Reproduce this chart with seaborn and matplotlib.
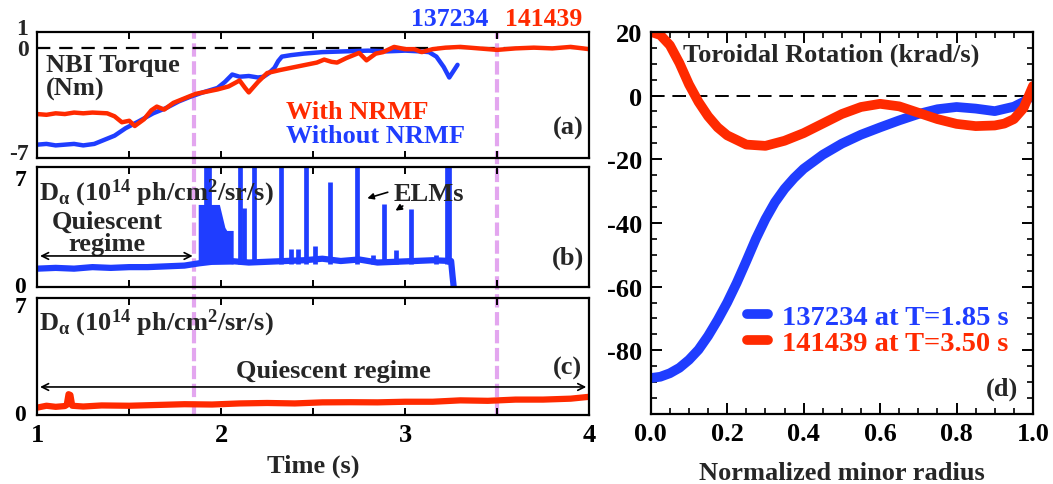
import numpy as np
import pandas as pd
import seaborn as sns
import matplotlib
matplotlib.use("Agg")
import matplotlib.pyplot as plt
from matplotlib.ticker import MultipleLocator, FixedLocator

# ---------------- data ----------------
# (a) NBI torque (Nm)
t_a_blue = [1.00, 1.05, 1.10, 1.15, 1.20, 1.25, 1.31, 1.36, 1.42, 1.48, 1.55, 1.63, 1.70, 1.77,
            1.83, 1.90, 1.98, 2.02, 2.06, 2.10, 2.15, 2.20, 2.23, 2.26, 2.29, 2.31, 2.33, 2.38,
            2.45, 2.55, 2.67, 2.80, 2.90, 3.00, 3.08, 3.13, 3.17, 3.21, 3.24, 3.285]
v_a_blue = [-6.5, -6.45, -6.55, -6.5, -6.45, -6.55, -6.45, -6.2, -5.9, -5.4, -4.95, -4.4, -4.05, -3.6,
            -3.3, -3.0, -2.7, -2.3, -1.8, -1.95, -1.9, -2.0, -1.95, -1.7, -1.35, -0.9, -0.6, -0.5,
            -0.4, -0.3, -0.25, -0.2, -0.25, -0.2, -0.25, -0.3, -0.6, -1.3, -2.0, -1.15]
t_a_red = [1.00, 1.05, 1.10, 1.15, 1.20, 1.25, 1.30, 1.38, 1.42, 1.46, 1.50, 1.53, 1.58, 1.62,
           1.65, 1.69, 1.74, 1.80, 1.86, 1.92, 1.98, 2.04, 2.10, 2.13, 2.15, 2.20, 2.25, 2.32,
           2.40, 2.46, 2.52, 2.56, 2.60, 2.63, 2.68, 2.75, 2.79, 2.84, 2.88, 2.94, 3.00, 3.05,
           3.09, 3.15, 3.22, 3.30, 3.40, 3.50, 3.60, 3.70, 3.80, 3.90, 4.00]
v_a_red = [-4.45, -4.5, -4.4, -4.45, -4.35, -4.4, -4.35, -4.4, -4.6, -5.0, -4.9, -5.25, -4.8, -4.2,
           -3.95, -4.15, -3.7, -3.4, -3.1, -2.95, -2.8, -2.6, -2.2, -2.7, -3.0, -2.3, -1.7, -1.5,
           -1.3, -1.15, -1.0, -0.8, -0.95, -1.0, -0.7, -0.35, -0.85, -0.4, -0.3, 0.05, -0.1, -0.1,
           -0.3, -0.1, 0.0, 0.05, -0.05, -0.15, -0.05, 0.0, -0.05, 0.05, -0.1]

# (b) D-alpha, shot 137234
t_b = [1.00, 1.10, 1.20, 1.30, 1.40, 1.50, 1.60, 1.70, 1.80, 1.88, 1.95, 2.05, 2.15, 2.25, 2.35,
       2.45, 2.55, 2.65, 2.75, 2.85, 2.95, 3.05, 3.15, 3.25, 3.258, 3.265, 3.275]
v_b = [1.0, 1.05, 1.0, 1.1, 1.05, 1.1, 1.1, 1.15, 1.2, 1.35, 1.45, 1.5, 1.4, 1.45, 1.5,
       1.55, 1.65, 1.5, 1.6, 1.4, 1.45, 1.5, 1.55, 1.5, 0.5, -0.3, -0.6]
blk_t = [1.875, 1.99, 2.02, 2.03, 2.065]
blk_top = [5.2, 5.2, 3.7, 3.5, 3.5]
elm_t = [1.92, 1.935, 2.10, 2.125, 2.18, 2.325, 2.38, 2.42, 2.46, 2.51, 2.59, 2.74, 2.825,
         2.8875, 2.95, 3.03, 3.17, 3.225, 3.24]
elm_v = [8, 8, 8, 5.0, 8, 8, 2.3, 2.3, 8, 2.5, 6.7, 8, 1.9, 5.2, 2.2, 4.9, 1.9, 8, 8]

# (c) D-alpha, shot 141439
t_c = [1.00, 1.05, 1.10, 1.15, 1.16, 1.17, 1.18, 1.19, 1.25, 1.35, 1.50, 1.65, 1.80, 1.95,
       2.10, 2.25, 2.40, 2.55, 2.70, 2.85, 3.00, 3.15, 3.30, 3.45, 3.60, 3.75, 3.90, 4.00]
v_c = [0.28, 0.4, 0.33, 0.38, 0.45, 1.15, 1.1, 0.4, 0.35, 0.42, 0.4, 0.45, 0.5, 0.48,
       0.55, 0.58, 0.55, 0.62, 0.63, 0.62, 0.66, 0.66, 0.75, 0.72, 0.8, 0.8, 0.86, 0.98]

# (d) toroidal rotation profiles
r_blue = [0.0, 0.025, 0.05, 0.075, 0.10, 0.125, 0.15, 0.175, 0.20, 0.225, 0.25, 0.275, 0.30,
          0.325, 0.35, 0.375, 0.40, 0.45, 0.50, 0.55, 0.60, 0.65, 0.70, 0.75, 0.80, 0.85,
          0.90, 0.95, 0.975, 1.0]
w_blue = [-88.7, -88.3, -87.2, -85.5, -83.0, -79.8, -75.5, -70.5, -65.0, -58.8, -52.0, -45.0,
          -38.8, -33.5, -29.3, -25.9, -23.0, -18.6, -15.1, -12.3, -10.0, -7.8, -5.8, -4.3,
          -3.6, -4.1, -4.9, -3.5, -2.0, 0.0]
r_red = [0.0, 0.025, 0.05, 0.075, 0.10, 0.125, 0.15, 0.175, 0.20, 0.25, 0.30, 0.35, 0.40,
         0.45, 0.50, 0.55, 0.60, 0.65, 0.70, 0.75, 0.80, 0.85, 0.90, 0.925, 0.95, 0.975, 1.0]
w_red = [20.0, 19.0, 15.8, 10.2, 3.5, -2.0, -6.5, -10.0, -12.5, -15.4, -15.8, -14.2, -11.8,
         -8.8, -5.8, -3.6, -2.6, -3.4, -5.4, -7.4, -8.9, -9.6, -9.4, -8.8, -7.4, -4.0, 3.0]

switch_times = [1.85, 3.50]
a_tick_vals = [1, 0, -7]
a_tick_text = ["1", "0", "-7"]

BLUE = "#1f3dff"
RED = "#ff2a00"
PINK = "#e3a6ef"

# ---------------- style ----------------
sns.set_theme(style="ticks")
plt.rcParams.update({
    "font.family": ["Liberation Serif", "DejaVu Serif"],
    "font.weight": "bold",
    "mathtext.fontset": "custom",
    "mathtext.rm": "Liberation Serif:bold",
    "mathtext.it": "Liberation Serif:bold",
    "mathtext.bf": "Liberation Serif:bold",
    "axes.edgecolor": "black",
    "axes.linewidth": 1.6,
    "xtick.color": "black",
    "ytick.color": "black",
    "xtick.direction": "in",
    "ytick.direction": "in",
})

FS = 19
FSY = 17
FSR = 19
fig = plt.figure(figsize=(10.53, 4.85), dpi=100)

L, W = 0.0354, 0.524
# pink dashed lines spanning (a)-(c), drawn behind the panels' data
ax_o = fig.add_axes([L, 0.1423, W, 0.932 - 0.1423])
ax_a = fig.add_axes([L, 0.672, W, 0.260])
ax_b = fig.add_axes([L, 0.4062, W, 0.2474])
ax_c = fig.add_axes([L, 0.1423, W, 0.2412])
ax_d = fig.add_axes([0.618, 0.1443, 0.363, 0.788])

ax_o.set_xlim(1, 4)
ax_o.set_ylim(0, 1)
ax_o.axis("off")
for ts in switch_times:
    ax_o.axvline(ts, color=PINK, lw=3.0, dashes=(3.2, 1.1))

# (a)
df_a_b = pd.DataFrame({"t": t_a_blue, "v": v_a_blue})
df_a_r = pd.DataFrame({"t": t_a_red, "v": v_a_red})
ax_a.axhline(0, color="black", lw=1.6, dashes=(6, 4))
sns.lineplot(data=df_a_b, x="t", y="v", ax=ax_a, color=BLUE, lw=3.2, sort=False, estimator=None)
sns.lineplot(data=df_a_r, x="t", y="v", ax=ax_a, color=RED, lw=3.2, sort=False, estimator=None)
ax_a.set_ylim(-7.4, 1.05)
ax_a.set_yticks(a_tick_vals)
ax_a.set_yticklabels([])
yt = ax_a.get_yaxis_transform()
for val, txt, dy in zip(a_tick_vals, a_tick_text, [0.3, -0.15, -0.1]):
    ax_a.text(-0.016, val + dy, txt, transform=yt, ha="right", va="center", fontsize=FSY,
              fontweight="bold", clip_on=False)
ax_a.text(1.047, -1.93, "NBI Torque\n(Nm)", fontsize=FS, fontweight="bold", va="center",
          ha="left", linespacing=1.0)
ax_a.text(2.35, -4.31, "With NRMF", color=RED, fontsize=FS, fontweight="bold", va="center")
ax_a.text(2.35, -5.92, "Without NRMF", color=BLUE, fontsize=FS, fontweight="bold", va="center")
ax_a.text(3.885, -5.32, "(a)", fontsize=FS, fontweight="bold", ha="center", va="center")
ax_a.text(3.24, 1.93, "137234", color=BLUE, fontsize=18.5, fontweight="bold", ha="center",
          va="center", clip_on=False)
ax_a.text(3.755, 1.93, "141439", color=RED, fontsize=18.5, fontweight="bold", ha="center",
          va="center", clip_on=False)

# (b)
df_b = pd.DataFrame({"t": t_b, "v": v_b})
ax_b.fill_between(blk_t, 1.3, blk_top, color=BLUE, lw=0)
ax_b.vlines(elm_t, 1.3, elm_v, color=BLUE, lw=3.4)
sns.lineplot(data=df_b, x="t", y="v", ax=ax_b, color=BLUE, lw=4.5, sort=False, estimator=None)
ax_b.set_ylim(-0.2, 7.65)
ax_b.set_yticks([0, 7])
ax_b.set_yticklabels(["0", "7"])
ax_b.text(1.01, 6.0, r"D$_{\alpha}$ (10$^{14}$ ph/cm$^{2}$/sr/s)", fontsize=FS,
          fontweight="bold", va="center", ha="left")
ax_b.text(1.38, 3.4, "Quiescent\nregime", fontsize=FS, fontweight="bold", ha="center",
          va="center", linespacing=0.95)
ax_b.annotate("", xy=(1.0, 1.83), xytext=(1.86, 1.83),
              arrowprops=dict(arrowstyle="<->", color="black", lw=1.2))
ax_b.text(3.13, 5.9, "ELMs", fontsize=FS, fontweight="bold", ha="center", va="center")
ax_b.annotate("", xy=(2.78, 5.55), xytext=(2.92, 6.05),
              arrowprops=dict(arrowstyle="-|>", color="black", lw=1.2, mutation_scale=9))
ax_b.annotate("", xy=(2.935, 4.7), xytext=(3.0, 5.2),
              arrowprops=dict(arrowstyle="-|>", color="black", lw=1.2, mutation_scale=9))
ax_b.text(3.885, 1.75, "(b)", fontsize=FS, fontweight="bold", ha="center", va="center")

# (c)
df_c = pd.DataFrame({"t": t_c, "v": v_c})
sns.lineplot(data=df_c, x="t", y="v", ax=ax_c, color=RED, lw=4.5, sort=False, estimator=None)
ax_c.set_ylim(-0.2, 7.4)
ax_c.set_yticks([0, 7])
ax_c.set_yticklabels(["0", "7"])
ax_c.text(1.01, 5.84, r"D$_{\alpha}$ (10$^{14}$ ph/cm$^{2}$/sr/s)", fontsize=FS,
          fontweight="bold", va="center", ha="left")
ax_c.text(2.61, 2.66, "Quiescent regime", fontsize=FS, fontweight="bold", ha="center",
          va="center")
ax_c.annotate("", xy=(1.0, 1.62), xytext=(4.0, 1.62),
              arrowprops=dict(arrowstyle="<->", color="black", lw=1.2))
ax_c.text(3.885, 2.92, "(c)", fontsize=FS, fontweight="bold", ha="center", va="center")

x_ticks = [1.0, 1.5, 2.0, 2.5, 3.0, 3.5, 4.0]
for ax in (ax_a, ax_b, ax_c):
    ax.patch.set_alpha(0)
    ax.set_xlim(1, 4)
    ax.xaxis.set_major_locator(FixedLocator(x_ticks))
    ax.set_xticklabels(["1", "", "2", "", "3", "", "4"])
    ax.tick_params(axis="x", which="major", top=True, bottom=True, length=5, width=1.4,
                   labelbottom=False, labelsize=FS, pad=6)
    ax.tick_params(axis="y", length=0, labelsize=FSY, pad=8)
    ax.set_xlabel("")
    ax.set_ylabel("")
ax_c.tick_params(axis="x", labelbottom=True)
ax_c.set_xlabel("Time (s)", fontsize=FS, fontweight="bold", labelpad=5)

# (d)
df_d_b = pd.DataFrame({"r": r_blue, "w": w_blue})
df_d_r = pd.DataFrame({"r": r_red, "w": w_red})
ax_d.axhline(0, color="black", lw=1.4, dashes=(7, 4))
sns.lineplot(data=df_d_b, x="r", y="w", ax=ax_d, color=BLUE, lw=7, sort=False, estimator=None,
             label="137234 at T=1.85 s")
sns.lineplot(data=df_d_r, x="r", y="w", ax=ax_d, color=RED, lw=7, sort=False, estimator=None,
             label="141439 at T=3.50 s")
ax_d.set_xlim(0, 1)
ax_d.set_ylim(-100, 20)
ax_d.set_xticks([0.0, 0.2, 0.4, 0.6, 0.8, 1.0])
ax_d.set_xticklabels(["0.0", "0.2", "0.4", "0.6", "0.8", "1.0"])
ax_d.set_yticks([-80, -60, -40, -20, 0, 20])
ax_d.set_yticklabels(["-80", "-60", "-40", "-20", "0", "20"])
ax_d.xaxis.set_minor_locator(MultipleLocator(0.05))
ax_d.yaxis.set_minor_locator(MultipleLocator(5))
ax_d.tick_params(which="major", top=True, right=True, length=8, width=1.4, labelsize=FSR, pad=6)
ax_d.tick_params(which="minor", top=True, right=True, length=4.5, width=1.2)
ax_d.set_ylabel("")
ax_d.set_xlabel("Normalized minor radius", fontsize=FSR, fontweight="bold", labelpad=11)
ax_d.text(0.473, 13.1, "Toroidal Rotation (krad/s)", fontsize=FSR, fontweight="bold",
          ha="center", va="center")
ax_d.text(0.92, -92, "(d)", fontsize=FSR, fontweight="bold", ha="center", va="center")
ax_d.legend(loc="upper left", bbox_to_anchor=(0.2, 0.34), frameon=False,
            handlelength=0.72, handletextpad=0.5, labelspacing=0.0, labelcolor="linecolor",
            borderpad=0.2, prop={"weight": "bold", "size": 20.5})

fig.savefig("out.png", dpi=100)
